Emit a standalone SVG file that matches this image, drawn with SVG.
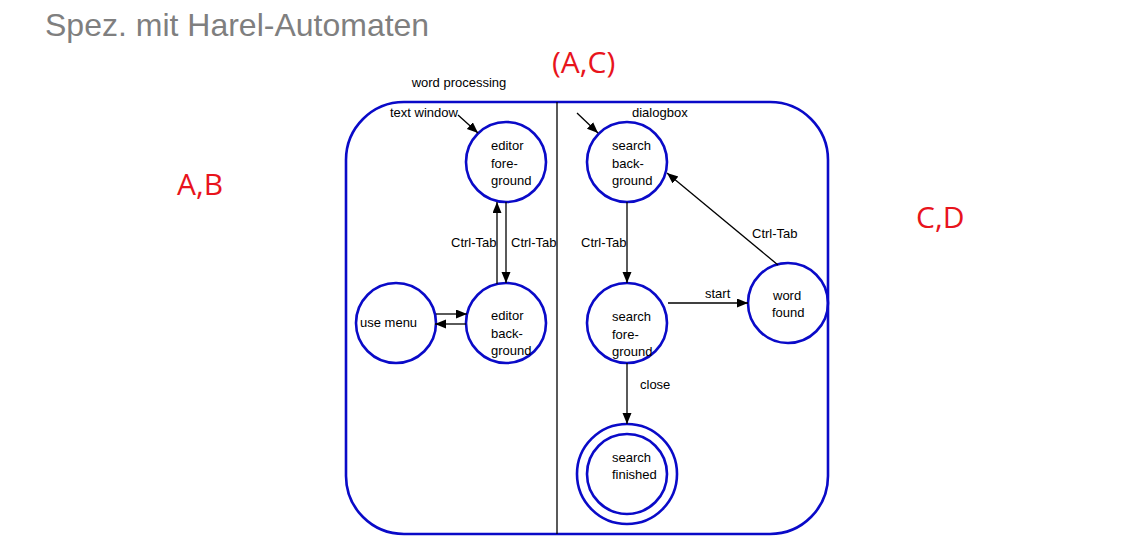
<svg xmlns="http://www.w3.org/2000/svg" width="1121" height="553" viewBox="0 0 1121 553">
<style>
.st{fill:none;stroke:#0a0ac8;stroke-width:2.6}
.t{font-family:"Liberation Sans",Arial,sans-serif;font-size:13px;fill:#000}
.ar{stroke:#000;stroke-width:1.3;fill:none;marker-end:url(#ah)}
.red{font-family:"Open Sans","Noto Sans",sans-serif;font-size:30px;fill:#e8141c}
</style>
<defs>
<marker id="ah" markerUnits="userSpaceOnUse" markerWidth="12" markerHeight="10" refX="11" refY="4.5" orient="auto">
<path d="M0,0 L11,4.5 L0,9 z" fill="#000"/>
</marker>
</defs>
<rect width="1121" height="553" fill="#fff"/>
<text x="45" y="36" font-family="'Liberation Sans',Arial,sans-serif" font-size="32" fill="#7f7f7f">Spez. mit Harel-Automaten</text>
<text class="red" x="552" y="73">(A,C)</text>
<text class="red" x="177" y="195">A,B</text>
<text class="red" x="916" y="228">C,D</text>

<g id="superstate">
<rect class="st" x="346" y="102" width="482" height="432" rx="58" ry="58"/>
<line x1="557" y1="102" x2="557" y2="534" stroke="#000" stroke-width="1.3"/>
<text class="t" x="459" y="87" text-anchor="middle">word processing</text>
<text class="t" x="390" y="117">text window</text>
<text class="t" x="632" y="117">dialogbox</text>
</g>

<g id="editor-foreground">
<circle class="st" cx="506" cy="162" r="40"/>
<text class="t" x="491" y="150">editor</text>
<text class="t" x="491" y="167.5">fore-</text>
<text class="t" x="491" y="185">ground</text>
</g>
<g id="editor-background">
<circle class="st" cx="506" cy="323" r="40"/>
<text class="t" x="491" y="320">editor</text>
<text class="t" x="491" y="337.5">back-</text>
<text class="t" x="491" y="355">ground</text>
</g>
<g id="use-menu">
<circle class="st" cx="396" cy="323" r="40"/>
<text class="t" x="360" y="327">use menu</text>
</g>
<g id="search-background">
<circle class="st" cx="627" cy="162" r="40"/>
<text class="t" x="612" y="150">search</text>
<text class="t" x="612" y="167.5">back-</text>
<text class="t" x="612" y="185">ground</text>
</g>
<g id="search-foreground">
<circle class="st" cx="627" cy="323" r="40"/>
<text class="t" x="612" y="321">search</text>
<text class="t" x="612" y="338.5">fore-</text>
<text class="t" x="612" y="356">ground</text>
</g>
<g id="word-found">
<circle class="st" cx="788" cy="303" r="40"/>
<text class="t" x="773" y="300">word</text>
<text class="t" x="772" y="317">found</text>
</g>
<g id="search-finished">
<circle class="st" cx="627" cy="474" r="50"/>
<circle class="st" cx="627" cy="474" r="40"/>
<text class="t" x="612" y="462">search</text>
<text class="t" x="612" y="479">finished</text>
</g>

<g id="connectors">
<line class="ar" x1="458" y1="115" x2="478" y2="133"/>
<line class="ar" x1="577" y1="113" x2="598" y2="133"/>
<line class="ar" x1="497" y1="284" x2="497" y2="202"/>
<line class="ar" x1="506" y1="202" x2="506" y2="283"/>
<line class="ar" x1="436" y1="314" x2="467" y2="314"/>
<line class="ar" x1="466" y1="324" x2="435" y2="324"/>
<line class="ar" x1="627" y1="202" x2="627" y2="283"/>
<line class="ar" x1="668" y1="303" x2="748" y2="303"/>
<line class="ar" x1="778" y1="265" x2="667" y2="173"/>
<line class="ar" x1="627" y1="363" x2="627" y2="424"/>
<text class="t" x="451" y="247">Ctrl-Tab</text>
<text class="t" x="511" y="247">Ctrl-Tab</text>
<text class="t" x="581" y="247">Ctrl-Tab</text>
<text class="t" x="705" y="298">start</text>
<text class="t" x="752" y="238">Ctrl-Tab</text>
<text class="t" x="640" y="389">close</text>
</g>
</svg>
